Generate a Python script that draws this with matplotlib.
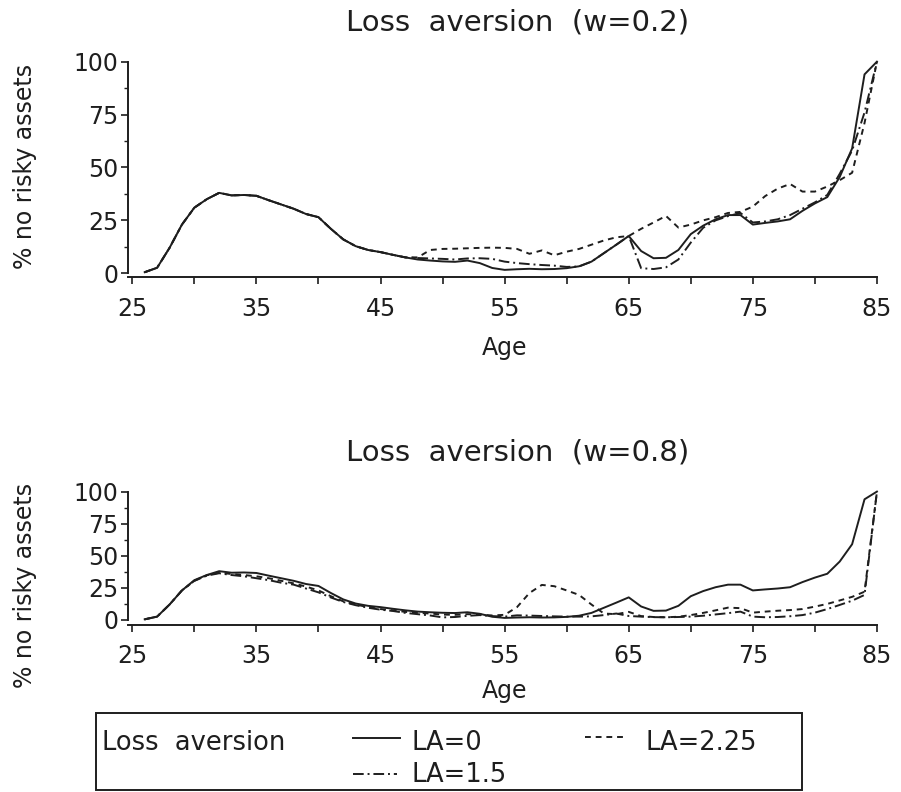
import matplotlib
matplotlib.use("Agg")
import matplotlib.pyplot as plt
from matplotlib.lines import Line2D
from matplotlib.patches import Rectangle

plt.rcParams['font.family'] = 'DejaVu Sans'

# share (%) of households holding no risky assets, by age
age = list(range(26, 86))

# LA = 0 is the same in both panels
la0 = [0.5, 2.6, 12, 23, 31, 35, 38, 36.8, 37, 36.6,
       34.5, 32.5, 30.5, 28, 26.5, 21, 16, 12.8, 11, 10,
       8.7, 7.5, 6.5, 6, 5.6, 5.4, 6, 4.8, 2.5, 1.6,
       1.9, 2.1, 1.9, 2, 2.4, 3.3, 5.5, 9.5, 13.5, 17.6,
       10.5, 7.1, 7.3, 11, 18.5, 22.5, 25.5, 27.5, 27.5, 23,
       23.8, 24.5, 25.5, 29.5, 33, 36, 45.5, 59, 94, 100]

# w = 0.2
la15_w02 = [0.5, 2.6, 12, 23, 31, 35, 38, 36.8, 37, 36.6,
            34.5, 32.5, 30.5, 28, 26.5, 21, 16, 12.8, 11, 10,
            8.7, 7.5, 7.2, 7, 6.8, 6.5, 7, 7.1, 6.8, 5.5,
            4.8, 4.3, 3.9, 3.6, 3.0, 3.2, 5.5, 9.5, 13.5, 17.6,
            2.4, 2.0, 2.8, 6.5, 14.5, 21.5, 25, 27, 28.5, 24,
            24.5, 25.5, 27.5, 30.5, 33.5, 37, 47, 58, 76, 100]
la225_w02 = [0.5, 2.6, 12, 23, 31, 35, 38, 36.8, 37, 36.6,
             34.5, 32.5, 30.5, 28, 26.5, 21, 16, 12.8, 11, 10,
             8.7, 7.5, 7.5, 11, 11.5, 11.6, 11.8, 12, 12.1, 12,
             11.5, 9.2, 10.8, 8.5, 10.2, 11.5, 13.5, 15.5, 17, 17.6,
             21, 24, 27.1, 21.6, 23, 25, 26.5, 28.5, 29, 31.5,
             36.5, 40, 42.2, 38.6, 38.6, 41, 44, 47.5, 71, 100]

# w = 0.8
la15_w08 = [0.5, 2.6, 12, 23, 30.5, 34.5, 36.4, 35, 34, 32.5,
            31, 29, 27.5, 24.5, 21.5, 17.5, 14, 11.5, 9.5, 8,
            7, 5.5, 4.5, 3.5, 2, 2.3, 3.2, 3.8, 3, 2.6,
            3.6, 3.4, 3.1, 2.8, 2.6, 2.6, 2.8, 3.8, 5, 3.1,
            2.6, 2.2, 2.1, 2.3, 2.6, 3.3, 4.3, 5.3, 6.5, 2.6,
            2.1, 2.3, 2.9, 3.8, 5.7, 8.5, 11.7, 15, 19.5, 100]
la225_w08 = [0.5, 2.6, 12, 23, 30.5, 34.8, 36.8, 35.8, 35, 34,
             32.5, 30.5, 28.5, 26, 23, 18.5, 14.5, 12, 10, 8.5,
             7.5, 6.3, 5.5, 5, 4.2, 4, 4.5, 4.2, 3.5, 4,
             10, 21, 27.3, 26.3, 23, 19.5, 12, 5, 4.5, 6.3,
             3, 2.3, 2.1, 2.5, 3.8, 5.5, 7.5, 9.6, 9.2, 5.7,
             6.5, 7.2, 7.7, 8.5, 10.4, 12.5, 15.2, 18, 22, 100]

titles = ['Loss  aversion  (w=0.2)', 'Loss  aversion  (w=0.8)']
legend_labels = ['LA=0', 'LA=1.5', 'LA=2.25']
xticks = [25, 35, 45, 55, 65, 75, 85]
xminor = [30, 40, 50, 60, 70, 80]
yticks = [0, 25, 50, 75, 100]
yminor = [12.5, 37.5, 62.5, 87.5]

ink = '#1e1e1e'
lw = 1.4
ls_solid = '-'
ls_dashdot = (0, (5.5, 2, 1, 2))
ls_dotted = (0, (3, 2.5))

W, H = 901, 792
def fx(px):
    return px / W
def fy(py):
    return 1 - py / H

fig = plt.figure(figsize=(W / 100, H / 100), dpi=100)
ax1 = fig.add_axes([0.1424, 0.6499, 0.8342, 0.2749])
ax2 = fig.add_axes([0.1424, 0.2109, 0.8342, 0.1710])

panels = [
    (ax1, la15_w02, la225_w02, (-1.9, 101.0), 0.511, -0.27),
    (ax2, la15_w08, la225_w08, (-3.9, 101.6), 0.295, -0.40),
]

for ax, la15, la225, ylim, ylab_y, xlab_y in panels:
    ax.plot(age, la0, color=ink, lw=lw, ls=ls_solid)
    ax.plot(age, la15, color=ink, lw=lw, ls=ls_dashdot)
    ax.plot(age, la225, color=ink, lw=lw, ls=ls_dotted)

    ax.set_xlim(24.678, 85.24)
    ax.set_ylim(*ylim)
    for s in ['top', 'right']:
        ax.spines[s].set_visible(False)
    ax.spines['left'].set_bounds(0, 100)
    ax.spines['bottom'].set_bounds(24.678, 85)
    for s in ['left', 'bottom']:
        ax.spines[s].set_linewidth(1.4)
        ax.spines[s].set_color(ink)

    ax.set_xticks(xticks)
    ax.set_xticks(xminor, minor=True)
    ax.set_yticks(yticks)
    ax.set_yticks(yminor, minor=True)
    ax.tick_params(axis='x', which='both', length=5, width=1.2, pad=9,
                   labelsize=17, colors=ink)
    ax.tick_params(axis='y', which='major', length=5, width=1.2, pad=2,
                   labelsize=17, colors=ink)
    ax.tick_params(axis='y', which='minor', length=3, width=1, colors=ink)

    ax.set_xlabel('Age', fontsize=17, color=ink)
    ax.xaxis.set_label_coords(0.5, xlab_y)
    ax.set_ylabel('% no risky assets', fontsize=17, color=ink)
    ax.yaxis.set_label_coords(-0.1215, ylab_y)

fig.text(fx(518), fy(22), titles[0], ha='center', va='center', fontsize=21, color=ink)
fig.text(fx(518), fy(452), titles[1], ha='center', va='center', fontsize=21, color=ink)

# legend box at the bottom
fig.add_artist(Rectangle((fx(96), fy(790)), fx(706), 77 / H, transform=fig.transFigure,
                         fill=False, lw=1.4, ec=ink))
fig.text(fx(102), fy(750), 'Loss  aversion', fontsize=18.5, va='baseline', color=ink)
samples = [
    (ls_solid, 353, 400, 738, 412, 750),
    (ls_dashdot, 353, 397, 774, 412, 782),
    (ls_dotted, 585, 627, 737, 645, 750),
]
for (ls, x0, x1, ly, tx, ty), lab in zip(samples, legend_labels):
    fig.add_artist(Line2D([fx(x0), fx(x1)], [fy(ly), fy(ly)], transform=fig.transFigure,
                          color=ink, lw=lw, ls=ls))
    fig.text(fx(tx), fy(ty), lab, fontsize=18.5, va='baseline', color=ink)

fig.savefig('out.png', dpi=100)
